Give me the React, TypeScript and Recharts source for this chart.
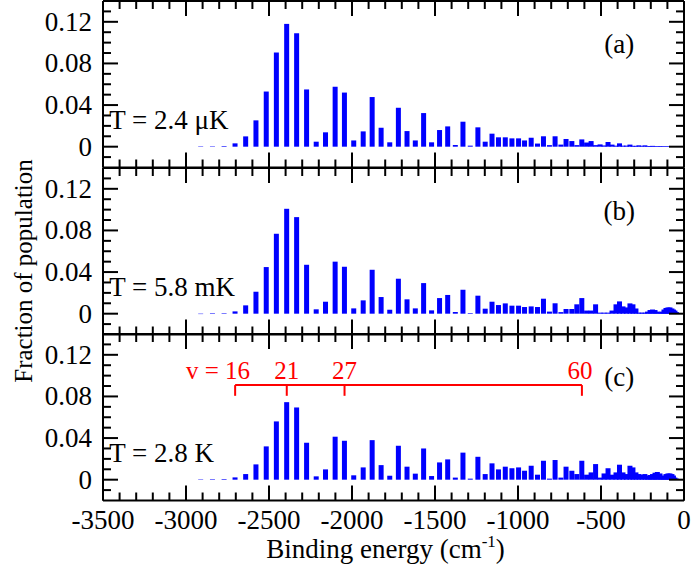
import React from "react";
import { BarChart, Bar, XAxis, YAxis, ReferenceLine, ReferenceDot } from "recharts";

// Vibrational levels v = 13 ... 93 : binding energies (cm^-1)
const V_FIRST = 13;
const LEVEL_E = [
  -2911, -2840, -2770, -2704, -2640, -2578, -2516, -2455, -2393, -2333,
  -2273, -2215, -2159, -2101, -2045, -1989, -1932, -1878, -1824, -1772,
  -1720, -1668, -1618, -1568, -1520, -1472, -1423, -1377, -1331, -1287,
  -1241, -1197, -1156, -1117, -1076, -1036, -996, -960, -920, -882,
  -846, -810, -776, -741, -710, -675, -645, -615, -586, -559,
  -532, -505, -481, -457, -433, -409, -388, -367, -346, -325,
  -307, -289, -271, -253, -235, -219, -204, -189, -174, -160,
  -144, -132, -120, -108, -96, -84, -72, -63, -54, -45,
  -36,
];

// (a) T = 2.4 μK
const POP_A = [
  0.0003, 0.0004, 0.0006, 0.0032, 0.0099, 0.0253, 0.053, 0.0905, 0.118, 0.109,
  0.055, 0.0048, 0.0138, 0.0576, 0.052, 0.006, 0.0147, 0.0477, 0.0182, 0.0042,
  0.0374, 0.015, 0.006, 0.0323, 0.0042, 0.016, 0.0195, 0.0016, 0.024, 0.001,
  0.0186, 0.0048, 0.0125, 0.009, 0.009, 0.008, 0.008, 0.006, 0.0086, 0.003,
  0.01, 0.0015, 0.01, 0.002, 0.0074, 0.0054, 0.0015, 0.007, 0.004, 0.0054,
  0.0015, 0.0022, 0.0012, 0.0045, 0.002, 0.001, 0.0032, 0.001, 0.001, 0.002,
  0.0008, 0.0008, 0.0013, 0.0006, 0.0013, 0.0006, 0.0006, 0.0008, 0.0005, 0.0005,
  0.0006, 0.0004, 0.0004, 0.0004, 0.0003, 0.0003, 0.0003, 0.0002, 0.0002, 0.0002,
  0.0002,
];

// (b) T = 5.8 mK
const POP_B = [
  0.0, 0.0005, 0.0005, 0.0022, 0.008, 0.0211, 0.0448, 0.0768, 0.1008, 0.0928,
  0.047, 0.0042, 0.0115, 0.05, 0.0451, 0.0051, 0.0128, 0.0422, 0.016, 0.0038,
  0.0336, 0.0138, 0.0051, 0.0294, 0.0032, 0.015, 0.018, 0.0016, 0.023, 0.0006,
  0.0173, 0.0048, 0.0115, 0.0083, 0.0099, 0.0077, 0.0077, 0.0064, 0.007, 0.0064,
  0.0144, 0.002, 0.01, 0.0015, 0.0045, 0.0045, 0.009, 0.015, 0.003, 0.003,
  0.009, 0.001, 0.001, 0.001, 0.003, 0.009, 0.0118, 0.007, 0.006, 0.0099,
  0.009, 0.005, 0.001, 0.001, 0.001, 0.002, 0.0035, 0.004, 0.0035, 0.002,
  0.001, 0.002, 0.004, 0.0055, 0.006, 0.006, 0.005, 0.004, 0.003, 0.0015,
  0.0005,
];

// (c) T = 2.8 K
const POP_C = [
  0.0003, 0.0005, 0.0006, 0.0022, 0.0054, 0.0147, 0.032, 0.056, 0.0745, 0.0694,
  0.0355, 0.0032, 0.0099, 0.0413, 0.0374, 0.0042, 0.0118, 0.038, 0.014, 0.0038,
  0.0326, 0.0125, 0.0058, 0.03, 0.0035, 0.0166, 0.0195, 0.002, 0.026, 0.001,
  0.022, 0.0054, 0.0157, 0.0099, 0.0125, 0.011, 0.0118, 0.0086, 0.0134, 0.0048,
  0.0182, 0.001, 0.0189, 0.002, 0.0125, 0.0086, 0.0054, 0.0182, 0.0048, 0.007,
  0.015, 0.002, 0.006, 0.011, 0.0048, 0.007, 0.0144, 0.007, 0.0054, 0.0134,
  0.0118, 0.007, 0.0054, 0.0048, 0.0054, 0.0038, 0.0045, 0.0054, 0.0067, 0.0074,
  0.006, 0.003, 0.004, 0.0054, 0.006, 0.006, 0.0054, 0.004, 0.002, 0.001,
  0.0005,
];

const TEMPS = ["T = 2.4 \u03bcK", "T = 5.8 mK", "T = 2.8 K"];
const PANEL_TAGS = ["(a)", "(b)", "(c)"];
const MARKED_V = [16, 21, 27, 60];

const X_DOMAIN = [-3500, 0];
const Y_DOMAIN = [-0.02, 0.14];
const X_MAJOR_TICKS = [-3500, -3000, -2500, -2000, -1500, -1000, -500, 0];
const X_TICKS = [
  -3500, -3400, -3300, -3200, -3100, -3000, -2900, -2800, -2700, -2600,
  -2500, -2400, -2300, -2200, -2100, -2000, -1900, -1800, -1700, -1600,
  -1500, -1400, -1300, -1200, -1100, -1000, -900, -800, -700, -600,
  -500, -400, -300, -200, -100, 0,
];
const Y_MAJOR_TICKS = [0, 0.04, 0.08, 0.12];
const Y_TICKS = [-0.01, 0, 0.01, 0.02, 0.03, 0.04, 0.05, 0.06, 0.07, 0.08, 0.09, 0.1, 0.11, 0.12, 0.13];

const FONT = "Liberation Serif";
const W = 694;
const LEFT_W = 103;
const RIGHT_M = 10;
const PLOT_W = W - LEFT_W - RIGHT_M;
const PANEL_H = 166.5;
const TOP0 = 1;
const MT = 2;
const BOTTOM_H = 78;

const isMajorX = (v: number) => X_MAJOR_TICKS.some((m) => Math.abs(m - v) < 1e-6);
const isMajorY = (v: number) => Y_MAJOR_TICKS.some((m) => Math.abs(m - v) < 1e-9);

// bottom tick (pointing up) + mirrored top tick (pointing down)
const makeXTick = (showLabel: boolean) => (props: any) => {
  const { x, y, payload } = props;
  const v = payload.value;
  const major = isMajorX(v);
  const len = major ? 15 : 8;
  const yTop = y - PANEL_H;
  return (
    <g>
      <line x1={x} x2={x} y1={y} y2={y - len} stroke="#000" strokeWidth={2} />
      <line x1={x} x2={x} y1={yTop} y2={yTop + len} stroke="#000" strokeWidth={2} />
      {showLabel && major ? (
        <text x={x} y={y + 28} textAnchor="middle" fontSize={27} fontFamily={FONT} fill="#000">
          {String(v)}
        </text>
      ) : null}
    </g>
  );
};

// left tick (pointing right) + mirrored right tick (pointing left)
const makeYTick = () => (props: any) => {
  const { x, y, payload } = props;
  const v = payload.value;
  const major = isMajorY(v);
  const len = major ? 15 : 8;
  const xr = x + PLOT_W;
  return (
    <g>
      <line x1={x} x2={x + len} y1={y} y2={y} stroke="#000" strokeWidth={2} />
      <line x1={xr} x2={xr - len} y1={y} y2={y} stroke="#000" strokeWidth={2} />
      {major ? (
        <text x={x - 11} y={y + 9} textAnchor="end" fontSize={27} fontFamily={FONT} fill="#000">
          {String(v)}
        </text>
      ) : null}
    </g>
  );
};

const BarShape = (props: any) => {
  const { x, y, width, height, fill } = props;
  if (height == null || isNaN(height)) return null;
  const cx = x + width / 2;
  return <rect x={cx - 2.5} y={y} width={5} height={Math.max(height, 0.4)} fill={fill} />;
};

const textAt = (text: string, anchor: string, color: string, size: number, dx = 0) => (p: any) => {
  const vb = p.viewBox || {};
  const cx = (vb.x || 0) + (vb.width || 0) / 2;
  const cy = (vb.y || 0) + (vb.height || 0) / 2;
  return (
    <text x={cx + dx} y={cy} textAnchor={anchor as any} fill={color} fontSize={size} fontFamily={FONT}>
      {text}
    </text>
  );
};

const renderXTitle = (p: any) => {
  const vb = p.viewBox || {};
  const cx = vb.x + vb.width / 2 - 8;
  const y = vb.y + 57;
  return (
    <text x={cx} y={y} textAnchor="middle" fontSize={27} fontFamily={FONT} fill="#000">
      Binding energy (cm
      <tspan fontSize={17} dy={-11}>-1</tspan>
      <tspan fontSize={27} dy={11}>)</tspan>
    </text>
  );
};

const levelE = (v: number) => LEVEL_E[v - V_FIRST];

const BRACKET_Y = 0.0909;
const BRACKET_TICK_Y = 0.0806;
const V_LABEL_Y = 0.0966;

function Panel({ idx, pops }: { idx: number; pops: number[] }) {
  const last = idx === 2;
  const data = LEVEL_E.map((e, i) => ({ e, p: pops[i] }));
  const axisH = last ? BOTTOM_H : 1;
  const h = MT + PANEL_H + axisH + (last ? 0 : MT);
  const axisLine = { stroke: "#000", strokeWidth: 2 };
  return (
    <div style={{ position: "absolute", left: 0, top: TOP0 + idx * PANEL_H - MT }}>
      <BarChart
        width={W}
        height={h}
        data={data}
        margin={{ top: MT, right: RIGHT_M, bottom: last ? 0 : MT, left: 0 }}
      >
        <XAxis
          dataKey="e"
          type="number"
          domain={X_DOMAIN}
          allowDataOverflow
          ticks={X_TICKS}
          interval={0}
          stroke="#000"
          tickSize={0}
          tickMargin={0}
          tickLine={false}
          axisLine={axisLine}
          height={axisH}
          tick={makeXTick(last)}
          label={last ? { content: renderXTitle } : undefined}
        />
        <YAxis
          type="number"
          domain={Y_DOMAIN}
          allowDataOverflow
          ticks={Y_TICKS}
          interval={0}
          stroke="#000"
          tickSize={0}
          tickMargin={0}
          tickLine={false}
          axisLine={axisLine}
          width={LEFT_W}
          tick={makeYTick()}
        />
        <Bar dataKey="p" fill="#0000FF" isAnimationActive={false} shape={<BarShape />} />
        <ReferenceLine y={Y_DOMAIN[1]} stroke="#000" strokeWidth={2} />
        <ReferenceLine x={X_DOMAIN[1]} stroke="#000" strokeWidth={2} />
        <ReferenceDot
          x={-3462}
          y={0.0167}
          r={1}
          fill="none"
          stroke="none"
          label={{ content: textAt(TEMPS[idx], "start", "#000", 27) }}
        />
        <ReferenceDot
          x={-390}
          y={0.09}
          r={1}
          fill="none"
          stroke="none"
          label={{ content: textAt(PANEL_TAGS[idx], "middle", "#000", 27) }}
        />
        {last ? (
          <ReferenceLine
            segment={[
              { x: levelE(MARKED_V[0]), y: BRACKET_Y },
              { x: levelE(MARKED_V[MARKED_V.length - 1]), y: BRACKET_Y },
            ]}
            stroke="#FF0000"
            strokeWidth={2}
          />
        ) : null}
        {last
          ? MARKED_V.map((v) => (
              <ReferenceLine
                key={"t" + v}
                segment={[
                  { x: levelE(v), y: BRACKET_Y },
                  { x: levelE(v), y: BRACKET_TICK_Y },
                ]}
                stroke="#FF0000"
                strokeWidth={2}
              />
            ))
          : null}
        {last
          ? MARKED_V.map((v, i) => (
              <ReferenceDot
                key={"l" + v}
                x={levelE(v)}
                y={V_LABEL_Y}
                r={1}
                fill="none"
                stroke="none"
                label={{
                  content: textAt(
                    i === 0 ? "v = " + v : String(v),
                    i === 0 ? "end" : "middle",
                    "#FF0000",
                    25,
                    i === 0 ? 15 : i === MARKED_V.length - 1 ? -2 : 0
                  ),
                }}
              />
            ))
          : null}
      </BarChart>
    </div>
  );
}

export default function App() {
  return (
    <div style={{ position: "absolute", left: 0, top: 0, width: W, height: 577, background: "#fff" }}>
      <Panel idx={0} pops={POP_A} />
      <Panel idx={1} pops={POP_B} />
      <Panel idx={2} pops={POP_C} />
      <svg
        width={60}
        height={577}
        style={{ position: "absolute", left: 0, top: 0, overflow: "visible", pointerEvents: "none" }}
      >
        <text
          x={31.7}
          y={271}
          transform="rotate(-90 31.7 271)"
          textAnchor="middle"
          fontSize={25}
          fontFamily={FONT}
          fill="#000"
        >
          Fraction of population
        </text>
      </svg>
    </div>
  );
}
